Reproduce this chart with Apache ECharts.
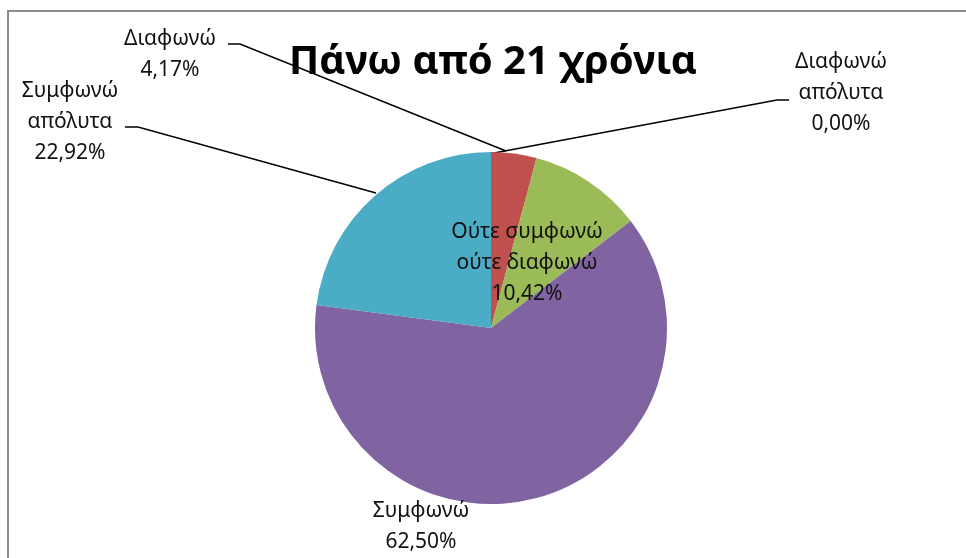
<!DOCTYPE html>
<html>
<head>
<meta charset="utf-8">
<script src="https://cdn.jsdelivr.net/npm/echarts@6/dist/echarts.min.js"></script>
<style>
  html, body { margin: 0; padding: 0; background: #fff; }
  #main { width: 966px; height: 558px; }
</style>
</head>
<body>
<div id="main"></div>
<script>
var categories = ['Διαφωνώ απόλυτα', 'Διαφωνώ', 'Ούτε συμφωνώ ούτε διαφωνώ', 'Συμφωνώ', 'Συμφωνώ απόλυτα'];
var percents = [0.00, 4.17, 10.42, 62.50, 22.92];
var colors = ['#4F81BD', '#C0504D', '#9BBB59', '#8064A2', '#4BACC6'];
var title = 'Πάνω από 21 χρόνια';

// where Excel put each label (centre of the text block) and its leader line (slice -> label)
var labelSpots = [
  { x: 841, y: 93, line: [[494, 153], [777, 100], [789, 100]] },
  { x: 170, y: 55, line: [[506, 151], [240, 44], [228, 44]] },
  { x: 527, y: 263, line: null },
  { x: 421, y: 527, line: null },
  { x: 70, y: 122, line: [[376, 193], [138, 127], [125, 127]] }
];

function splitName(name) {
  return name.replace(' απόλυτα', '\nαπόλυτα').replace(' ούτε', '\nούτε');
}

var chart = echarts.init(document.getElementById('main'));

var option = {
  animation: false,
  color: colors,
  textStyle: { fontFamily: 'Noto Sans' },
  title: {
    text: title,
    left: 284,
    top: 38,
    textStyle: { fontFamily: 'Noto Sans', fontWeight: 'bold', fontSize: 40, color: '#000' }
  },
  graphic: [{
    type: 'polyline',
    shape: { points: [[8, 560], [8, 11], [970, 11]] },
    style: { fill: 'none', stroke: '#8c8c8c', lineWidth: 2 },
    z: -1
  }],
  series: [{
    type: 'pie',
    center: [491, 328],
    radius: 176,
    startAngle: 90,
    clockwise: true,
    avoidLabelOverlap: false,
    label: {
      show: true,
      color: '#111',
      fontSize: 21,
      lineHeight: 31,
      align: 'center',
      formatter: function (p) {
        return splitName(p.name) + '\n' + p.value.toFixed(2).replace('.', ',') + '%';
      }
    },
    labelLine: {
      show: true,
      lineStyle: { color: '#000', width: 1.5 }
    },
    labelLayout: function (p) {
      var s = labelSpots[p.dataIndex];
      var out = {
        x: s.x,
        y: s.y,
        align: 'center',
        verticalAlign: 'middle'
      };
      if (s.line) {
        out.labelLinePoints = s.line;
      }
      return out;
    },
    data: categories.map(function (c, i) {
      return {
        name: c,
        value: percents[i],
        labelLine: { show: labelSpots[i].line !== null }
      };
    })
  }]
};

chart.setOption(option);
</script>
</body>
</html>
